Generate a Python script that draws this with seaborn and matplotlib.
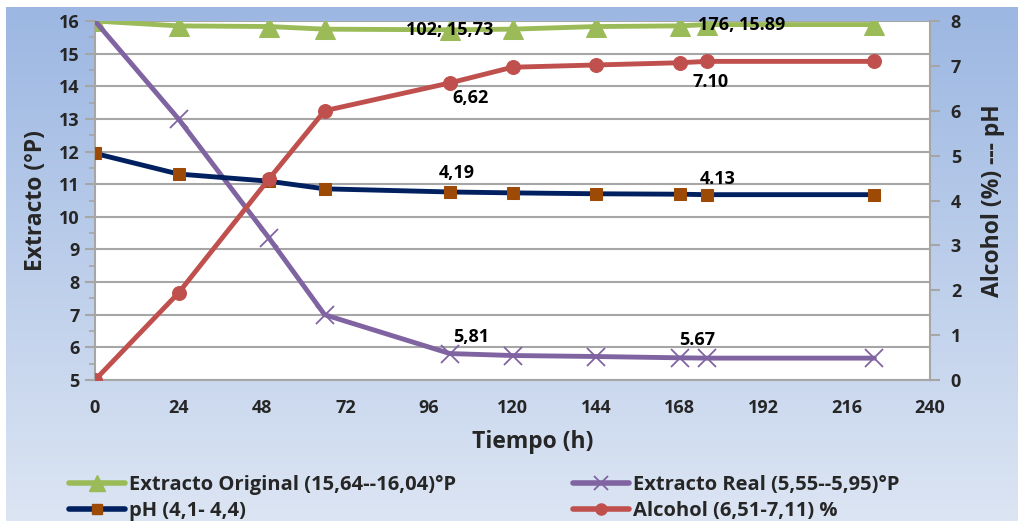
import numpy as np
import pandas as pd
import matplotlib
matplotlib.use("Agg")
import matplotlib.pyplot as plt
import seaborn as sns
from matplotlib.lines import Line2D
from matplotlib.ticker import MultipleLocator

# Fermentation time points (h)
tiempo = [0, 24, 50, 66, 102, 120, 144, 168, 176, 224]

# Left axis (°P)
extracto_original = [16.00, 15.85, 15.83, 15.75, 15.73, 15.75, 15.83, 15.85, 15.89, 15.89]
extracto_real = [16.00, 13.00, 9.35, 7.00, 5.81, 5.75, 5.72, 5.68, 5.67, 5.67]

# Right axis (% / pH)
ph = [5.05, 4.59, 4.43, 4.26, 4.19, 4.17, 4.15, 4.14, 4.13, 4.13]
alcohol = [0.00, 1.94, 4.48, 6.00, 6.62, 6.97, 7.02, 7.07, 7.10, 7.10]

x_ticks = [0, 24, 48, 72, 96, 120, 144, 168, 192, 216, 240]

df = pd.DataFrame({
    "tiempo": tiempo,
    "original": extracto_original,
    "real": extracto_real,
    "ph": ph,
    "alcohol": alcohol,
})

sns.set_theme(style="white")
plt.rcParams["font.family"] = ["Open Sans", "DejaVu Sans"]
plt.rcParams["font.weight"] = "bold"

fig = plt.figure(figsize=(10.18, 5.21), dpi=100)

# gradient backdrop
bg = fig.add_axes([6 / 1018, 0, 1 - 6 / 1018, 1 - 7 / 521])
top_c = np.array([0x9c, 0xb7, 0xe2]) / 255
bot_c = np.array([0xdc, 0xe5, 0xf3]) / 255
t = np.linspace(0, 1, 256)[:, None]
grad = (top_c[None, :] * (1 - t) + bot_c[None, :] * t)[:, None, :]
bg.imshow(grad, aspect="auto", extent=[0, 1, 0, 1])
bg.set_axis_off()

ax = fig.add_axes([95 / 1018, 1 - 380 / 521, (930 - 95) / 1018, (380 - 21) / 521])
ax.set_facecolor("white")
ax2 = ax.twinx()

green = "#9bbb59"
purple = "#8064a2"
navy = "#002060"
brown = "#9c4a06"
red = "#c0504d"

sns.lineplot(data=df, x="tiempo", y="original", ax=ax, color=green, lw=3.5,
             marker="^", markersize=15, markeredgecolor=green, zorder=5)
sns.lineplot(data=df, x="tiempo", y="real", ax=ax, color=purple, lw=3.5,
             marker="x", markersize=13, markeredgewidth=1.3, markeredgecolor=purple, zorder=5)
sns.lineplot(data=df, x="tiempo", y="ph", ax=ax2, color=navy, lw=3.5,
             marker="s", markersize=8, markerfacecolor=brown, markeredgecolor=brown, zorder=5)
sns.lineplot(data=df, x="tiempo", y="alcohol", ax=ax2, color=red, lw=3.5,
             marker="o", markersize=10, markeredgecolor=red, zorder=5)

ax.set_xlim(0, 240)
ax.set_ylim(5, 16)
ax2.set_ylim(0, 8)
ax.set_xticks(x_ticks)
ax.xaxis.set_minor_locator(MultipleLocator(6))
ax.yaxis.set_minor_locator(MultipleLocator(0.5))
ax.set_yticks(range(5, 17))
ax2.set_yticks(range(0, 9))

grid_c = "#a6a6a6"
ax.grid(axis="y", color=grid_c, lw=1.5)
ax.set_axisbelow(True)
for sp in ["left", "bottom"]:
    ax.spines[sp].set_color(grid_c)
    ax.spines[sp].set_linewidth(1.5)
ax.spines["top"].set_visible(False)
ax.spines["right"].set_visible(False)
for sp in ["left", "top", "bottom"]:
    ax2.spines[sp].set_visible(False)
ax2.spines["right"].set_color(grid_c)
ax2.spines["right"].set_linewidth(1.5)

ax.tick_params(axis="y", which="major", direction="out", length=7, width=1.5,
               color=grid_c, labelsize=13, pad=4)
ax.tick_params(axis="y", which="minor", direction="out", length=4, width=1.2, color=grid_c)
ax.tick_params(axis="x", which="major", direction="inout", length=12, width=1.5,
               color=grid_c, labelsize=13, pad=8)
ax.tick_params(axis="x", which="minor", direction="in", length=5, width=1.2, color=grid_c)
ax2.tick_params(axis="y", which="major", direction="out", length=7, width=1.5,
                color=grid_c, labelsize=13, pad=8)
for lbl in ax.get_xticklabels() + ax.get_yticklabels() + ax2.get_yticklabels():
    lbl.set_fontweight("bold")

ax.set_xlabel("Tiempo (h)", fontsize=16.5, fontweight="bold")
ax.xaxis.set_label_coords((533 - 95) / 835, -(430 - 380) / 359)
ax.set_ylabel("Extracto (°P)", fontsize=16.5, fontweight="bold", labelpad=8)
ax2.set_ylabel("Alcohol (%) --- pH", fontsize=16.5, fontweight="bold", labelpad=14)

# value annotations
ann = dict(fontsize=13, fontweight="bold", color="black", zorder=10)
ax.text(tiempo[4], extracto_original[4], "102; 15,73", ha="center", va="center", **ann)
ax.text(tiempo[8] + 10, extracto_original[8], "176, 15.89", ha="center", va="center", **ann)
ax2.text(tiempo[4] + 6, alcohol[4] - 0.33, "6,62", ha="center", va="center", **ann)
ax2.text(tiempo[8] + 1, alcohol[8] - 0.45, "7.10", ha="center", va="center", **ann)
ax2.text(tiempo[4] + 2, ph[4] + 0.42, "4,19", ha="center", va="center", **ann)
ax2.text(tiempo[8] + 3, ph[8] + 0.35, "4.13", ha="center", va="center", **ann)
ax.text(tiempo[4] + 6, extracto_real[4] + 0.5, "5,81", ha="center", va="center", **ann)
ax.text(tiempo[8] - 3, extracto_real[8] + 0.55, "5.67", ha="center", va="center", **ann)

handles1 = [
    Line2D([], [], color=green, lw=4, marker="^", markersize=11, markeredgecolor=green),
    Line2D([], [], color=navy, lw=4, marker="s", markersize=7,
           markerfacecolor=brown, markeredgecolor=brown),
]
labels1 = ["Extracto Original (15,64--16,04)°P", "pH (4,1- 4,4)"]
handles2 = [
    Line2D([], [], color=purple, lw=4, marker="x", markersize=10, markeredgewidth=1.3),
    Line2D([], [], color=red, lw=4, marker="o", markersize=8, markeredgecolor=red),
]
labels2 = ["Extracto Real (5,55--5,95)°P", "Alcohol (6,51-7,11) %"]

leg_kw = dict(frameon=False, handlelength=2.8, handletextpad=0.2,
              labelspacing=0.3, borderaxespad=0, borderpad=0,
              prop={"weight": "bold", "size": 14.5})
leg1 = fig.legend(handles1, labels1, loc="upper left",
                  bbox_to_anchor=(69 / 1018, 1 - 475 / 521), **leg_kw)
leg2 = fig.legend(handles2, labels2, loc="upper left",
                  bbox_to_anchor=(573 / 1018, 1 - 475 / 521), **leg_kw)

fig.savefig("out.png", dpi=100)
